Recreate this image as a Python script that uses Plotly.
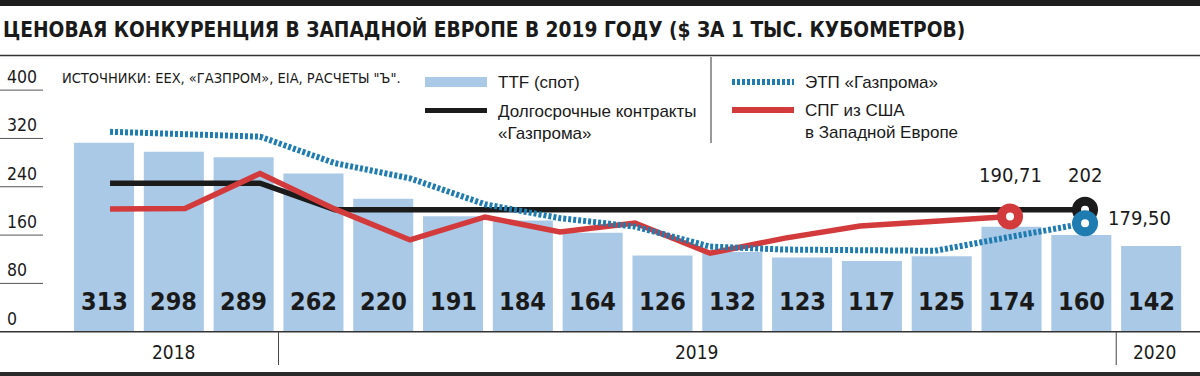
import plotly.graph_objects as go

W, H = 1200, 376

# ---------------- data ----------------
bar_months = ["2018-10", "2018-11", "2018-12", "2019-01", "2019-02", "2019-03",
              "2019-04", "2019-05", "2019-06", "2019-07", "2019-08", "2019-09",
              "2019-10", "2019-11", "2019-12", "2020-01"]
ttf_spot = [313, 298, 289, 262, 220, 191, 184, 164, 126, 132, 123, 117, 125, 174, 160, 142]

line_months = ["2018-10", "2018-11", "2018-12", "2019-01", "2019-02", "2019-03",
               "2019-04", "2019-05", "2019-06", "2019-07", "2019-08", "2019-09",
               "2019-10", "2019-11"]
long_term = [246, 246, 246, 202, 202, 202, 202, 202, 202, 202, 202, 202, 202, 202]
etp = [331, 328, 323, 279, 254, 211, 188, 174, 141, 136, 135, 134, 157, 179.50]
lng_usa = [203, 204, 262, 203, 152, 190, 165, 180, 130, 155, 175, 184, 190.71]

y_ticks = [0, 80, 160, 240, 320, 400]

title_text = "ЦЕНОВАЯ КОНКУРЕНЦИЯ В ЗАПАДНОЙ ЕВРОПЕ В 2019 ГОДУ ($ ЗА 1 ТЫС. КУБОМЕТРОВ)"
source_text = "ИСТОЧНИКИ: EEX, «ГАЗПРОМ», EIA, РАСЧЕТЫ \"Ъ\"."
legend_ttf = "TTF (спот)"
legend_long = "Долгосрочные контракты<br>«Газпрома»"
legend_etp = "ЭТП «Газпрома»"
legend_lng = "СПГ из США<br>в Западной Европе"

# ---------------- style ----------------
BAR = "#aac9e6"
BLACK = "#1b1b1b"
RED = "#d23a3b"
BLUE = "#1f7cb0"
TXT = "#1a1a1a"
NARROW = "Liberation Sans Narrow, Arial Narrow, DejaVu Sans Condensed, Liberation Sans, sans-serif"
REG = "Liberation Sans, Arial, sans-serif"


def px(x):
    return x / W


def py(y):
    return 1 - y / H


def fmt(v):
    if float(v).is_integer():
        return str(int(v))
    return f"{v:.2f}".replace(".", ",")


fig = go.Figure()

fig.add_trace(go.Bar(x=bar_months, y=ttf_spot, marker=dict(color=BAR, line_width=0),
                     xaxis="x", yaxis="y", showlegend=False, hoverinfo="skip"))
fig.add_trace(go.Scatter(x=line_months, y=long_term, mode="lines",
                         line=dict(color=BLACK, width=5.5), xaxis="x2", yaxis="y",
                         showlegend=False))
fig.add_trace(go.Scatter(x=line_months[:len(lng_usa)], y=lng_usa, mode="lines",
                         line=dict(color=RED, width=5.5), xaxis="x2", yaxis="y",
                         showlegend=False))
fig.add_trace(go.Scatter(x=line_months, y=etp, mode="lines",
                         line=dict(color=BLUE, width=6, dash="3px,2px"), xaxis="x2", yaxis="y",
                         showlegend=False))
# end markers
end_x = [line_months[len(lng_usa) - 1], line_months[len(long_term) - 1], line_months[len(etp) - 1]]
end_y = [lng_usa[-1], long_term[-1], etp[-1]]
fig.add_trace(go.Scatter(x=end_x, y=end_y, mode="markers", xaxis="x2", yaxis="y",
                         marker=dict(symbol="circle", size=17, color="white",
                                     line=dict(width=9, color=[RED, BLACK, BLUE])),
                         showlegend=False, hoverinfo="skip"))

ann = []
shapes = []

# bar value labels
for m, v in zip(bar_months, ttf_spot):
    ann.append(dict(x=m, y=0, xref="x", yref="y", yshift=30, text=str(v), showarrow=False,
                    font=dict(family=NARROW, size=25, color=TXT, weight="bold")))

# end value labels
end_font = dict(family=NARROW, size=20, color=TXT)
ann.append(dict(x=end_x[0], y=end_y[0], xref="x2", yref="y", yshift=42, text=fmt(lng_usa[-1]),
                showarrow=False, font=end_font))
ann.append(dict(x=end_x[1], y=end_y[1], xref="x2", yref="y", yshift=35, text=fmt(long_term[-1]),
                showarrow=False, font=end_font))
ann.append(dict(x=end_x[2], y=end_y[2], xref="x2", yref="y", yshift=5, xshift=21, xanchor="left",
                text=fmt(etp[-1]), showarrow=False, font=end_font))

# y tick labels and short grid lines
for t in y_ticks:
    ann.append(dict(x=px(5), y=t, xref="paper", yref="y", xanchor="left", yanchor="middle",
                    yshift=13, text=str(t), showarrow=False,
                    font=dict(family=NARROW, size=17.5, color=TXT)))
    if t > 0:
        shapes.append(dict(type="line", xref="paper", yref="y", x0=0, x1=px(43), y0=t, y1=t,
                           line=dict(color="#555555", width=1)))

# baseline
shapes.append(dict(type="line", xref="paper", yref="y", x0=0, x1=1, y0=0, y1=0,
                   line=dict(color="#333333", width=1.5)))

# years along the bottom
years = [m[:4] for m in bar_months]
groups = []
start = 0
for i in range(1, len(years) + 1):
    if i == len(years) or years[i] != years[start]:
        groups.append((years[start], start, i - 1))
        start = i
for gi, (yr, s, e) in enumerate(groups):
    ann.append(dict(x=(s + e) / 2 + (0.05 if gi == len(groups) - 1 else 0), y=py(351.5),
                    xref="x", yref="paper", text=yr, showarrow=False, yanchor="middle",
                    font=dict(family=NARROW, size=19, color=TXT)))
    if gi > 0:
        shapes.append(dict(type="line", xref="x", yref="paper", x0=s - 0.5, x1=s - 0.5,
                           y0=py(331.7), y1=py(365), line=dict(color="#444444", width=1)))

# top and bottom bands, title rule
shapes.append(dict(type="rect", xref="paper", yref="paper", x0=0, x1=1, y0=py(6), y1=1,
                   fillcolor="#1e1e1e", line_width=0))
shapes.append(dict(type="rect", xref="paper", yref="paper", x0=0, x1=1, y0=0, y1=py(372),
                   fillcolor="#2a2a2a", line_width=0))
shapes.append(dict(type="line", xref="paper", yref="paper", x0=0, x1=1, y0=py(55.5), y1=py(55.5),
                   line=dict(color="#333333", width=1.5)))

# title
ann.append(dict(x=px(1), y=py(29), xref="paper", yref="paper", xanchor="left", yanchor="middle",
                text=title_text, showarrow=False,
                font=dict(family=NARROW, size=20.7, color=TXT, weight="bold")))
# sources
ann.append(dict(x=px(60), y=py(78), xref="paper", yref="paper", xanchor="left", yanchor="middle",
                text=source_text, showarrow=False, font=dict(family=NARROW, size=14.5, color=TXT)))

# legend (drawn manually)
shapes.append(dict(type="rect", xref="paper", yref="paper", x0=px(425), x1=px(487),
                   y0=py(87), y1=py(77), fillcolor=BAR, line_width=0))
shapes.append(dict(type="line", xref="paper", yref="paper", x0=px(425), x1=px(487),
                   y0=py(110.5), y1=py(110.5), line=dict(color=BLACK, width=5)))
shapes.append(dict(type="line", xref="paper", yref="paper", x0=px(732), x1=px(794),
                   y0=py(82), y1=py(82), line=dict(color=BLUE, width=6, dash="3px,2px")))
shapes.append(dict(type="line", xref="paper", yref="paper", x0=px(732), x1=px(794),
                   y0=py(110), y1=py(110), line=dict(color=RED, width=6)))
shapes.append(dict(type="line", xref="paper", yref="paper", x0=px(711), x1=px(711),
                   y0=py(57), y1=py(143), line=dict(color="#555555", width=1.2)))

leg_font = dict(family=REG, size=17, color=TXT)
ann.append(dict(x=px(496), y=py(82), xref="paper", yref="paper", xanchor="left", yanchor="middle",
                text=legend_ttf, showarrow=False, font=leg_font))
ann.append(dict(x=px(496), y=py(100), xref="paper", yref="paper", xanchor="left", yanchor="top",
                text=legend_long, showarrow=False, font=leg_font, align="left"))
ann.append(dict(x=px(803), y=py(82), xref="paper", yref="paper", xanchor="left", yanchor="middle",
                text=legend_etp, showarrow=False, font=leg_font))
ann.append(dict(x=px(803), y=py(99), xref="paper", yref="paper", xanchor="left", yanchor="top",
                text=legend_lng, showarrow=False, font=leg_font, align="left"))

fig.update_layout(
    width=W, height=H,
    margin=dict(l=0, r=0, t=0, b=0),
    paper_bgcolor="white", plot_bgcolor="white",
    bargap=0.14,
    showlegend=False,
    xaxis=dict(type="category", categoryorder="array", categoryarray=bar_months,
               range=[-1.49, 15.70], visible=False, fixedrange=True),
    xaxis2=dict(type="category", categoryorder="array", categoryarray=line_months,
                overlaying="x", range=[-1.467, 14.533], visible=False, fixedrange=True),
    yaxis=dict(range=[-73.3, 549.2], visible=False, fixedrange=True),
    annotations=ann,
    shapes=shapes,
)

fig.write_html("out.html", config={"displayModeBar": False},
               post_script="document.body.style.margin='0';document.body.style.padding='0';")
